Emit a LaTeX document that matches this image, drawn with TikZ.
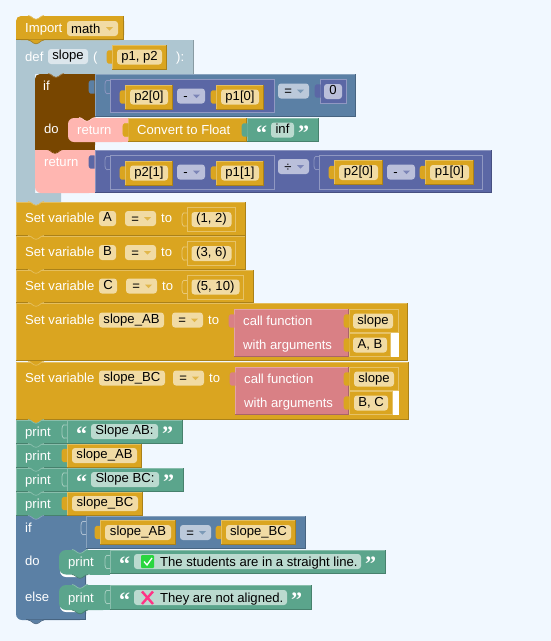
\documentclass[tikz,border=0pt]{standalone}
\usepackage{fontspec}
\setmainfont{Liberation Sans}
\newfontfamily\qfont{Liberation Serif}
\definecolor{bgc}{HTML}{F1F8FF}
\definecolor{gold}{HTML}{DAA520}
\definecolor{goldf}{HTML}{F1DBA4}
\definecolor{teal}{HTML}{5BA58C}
\definecolor{tealf}{HTML}{BBDACF}
\definecolor{blu}{HTML}{5B80A5}
\definecolor{bluf}{HTML}{BBC9DA}
\definecolor{pur}{HTML}{5B67A5}
\definecolor{purf}{HTML}{BABFDA}
\definecolor{defc}{HTML}{AEC6D1}
\definecolor{deff}{HTML}{DCE6EC}
\definecolor{brn}{HTML}{784600}
\definecolor{pnk}{HTML}{FFB6B1}
\definecolor{cal}{HTML}{D98085}
\newcounter{nn}
\tikzset{
  lbl/.style={anchor=base west,inner sep=0pt,font=\fontsize{13.1}{15}\selectfont},
  fldbox/.style={rounded corners=3pt,inner sep=0pt,text height=9.4pt,text depth=3pt,text=black,font=\fontsize{13.1}{15}\selectfont},
  quot/.style={anchor=base west,inner sep=0pt,text=white,font=\qfont\bfseries\fontsize{22}{22}\selectfont},
}
% label: [colour]{x}{baseline}{text}
\newcommand\tx[4][white]{\stepcounter{nn}\node[lbl,text=#1] (t\thenn) at (#2,#3) {#4};}
% block: x1 y1 x2 y2 colour
\newcommand\blk[5]{\fill[#5] (#1,#2) rectangle (#3,#4);
  \draw[#5!72!white,line width=.8pt] (#1+.4,#4) -- (#1+.4,#2+.4) -- (#3,#2+.4);
  \draw[#5!78!black,line width=.8pt] (#1,#4-.4) -- (#3-.4,#4-.4) -- (#3-.4,#2);}
% inset frame: x1 y1 x2 y2 colour
\newcommand\frm[5]{\fill[#5] (#1,#2) rectangle (#3,#4);
  \draw[#5!68!white,line width=.8pt] (#1+.4,#2+.4) rectangle (#3-.4,#4-.4);}
% field: x1 x2 yc text fill
\newcommand\fld[5]{\stepcounter{nn}\node[fldbox,fill=#5,minimum width={(#2)-(#1)},minimum height=15pt] (f\thenn) at ({((#1)+(#2))/2},#3) {#4};}
% dropdown: x1 x2 yc char fill arrow
\newcommand\dd[6]{\stepcounter{nn}\fill[#5,rounded corners=3pt] (#1,#3-7.5) rectangle (#2,#3+7.5);
  \node[lbl,text=black] (d\thenn) at (#1+4,#3+4.5) {#4};
  \fill[#6] (#2-12,#3-1.5) -- (#2-5,#3-1.5) -- (#2-8.5,#3+2) -- cycle;}
% tab left of x at yc
\newcommand\tabl[3]{\fill[#3] (#1+.5,#2-6.5) .. controls (#1-2,#2-7.5) and (#1-5.5,#2-7) .. (#1-5.5,#2-3) -- (#1-5.5,#2+3) .. controls (#1-5.5,#2+7) and (#1-2,#2+7.5) .. (#1+.5,#2+6.5) -- cycle;}
% empty slot, outline only
\newcommand\slot[3]{\draw[#3,line width=.8pt] (#1,#2-6.5) .. controls (#1-2,#2-7.5) and (#1-5,#2-7) .. (#1-5,#2-3) -- (#1-5,#2+3) .. controls (#1-5,#2+7) and (#1-2,#2+7.5) .. (#1,#2+6.5);}
% notch: centre x, y, colour of upper block, edge colour
\newcommand\notch[4]{\fill[#3] (#1-8,#2-.5) .. controls (#1-5,#2-.5) and (#1-3,#2+3.5) .. (#1,#2+3.5) .. controls (#1+3,#2+3.5) and (#1+5,#2-.5) .. (#1+8,#2-.5) -- cycle;
  \draw[#4,line width=.7pt] (#1-8,#2) .. controls (#1-5,#2) and (#1-3,#2+3.8) .. (#1,#2+3.8) .. controls (#1+3,#2+3.8) and (#1+5,#2) .. (#1+8,#2);}
% gold value block with field
\newcommand\gval[5]{\tabl{#1}{#3}{gold}\blk{#1}{#3-12.5}{#2}{#3+12.5}{gold}\fld{#1+5}{#2-5}{#3}{#4}{#5}}
% flat gold value block, inside a gold parent
\newcommand\gin[4]{\slot{#1}{#3}{gold!60!white}\frm{#1}{#3-12.5}{#2}{#3+12.5}{gold}\fld{#1+4.5}{#2-4.5}{#3}{#4}{goldf}}
% quote mark: x, row centre, glyph
\newcommand\qq[3]{\stepcounter{nn}\node[quot] (q\thenn) at (#1,#2+10) {#3};}
\begin{document}
\begin{tikzpicture}[x=1pt,y=-1pt]
\useasboundingbox (0,0) rectangle (551,641);
\fill[bgc] (0,0) rectangle (551,641);

% ===== def =====
\fill[defc] (16,40) -- (193,40) -- (193,74) -- (35,74) -- (35,193) -- (61,193) -- (61,202) -- (16,202) -- cycle;
\draw[defc!78!black,line width=.6pt] (193,40) -- (193,74);
\tx{25}{61.5}{def}
\fld{48}{88}{56.5}{slope}{deff}
\tx{93}{61.5}{(}
\gval{112}{167}{57}{p1, p2}{goldf}
\tx{176}{61.5}{):}

% ===== import =====
\fill[gold,rounded corners=5pt] (16,40) -- (16,16) -- (124,16) -- (124,40) -- cycle;
\fill[gold] (16,30) rectangle (124,40);
\fill[gold] (100,16) rectangle (124,40);
\draw[gold!78!black,line width=.8pt] (16,39.6) -- (123.6,39.6) -- (123.6,16);
\notch{36}{40}{gold}{gold!78!black}
\notch{36}{15.5}{bgc}{gold!72!white}
\tx{25}{32.5}{Import}
\dd{67}{118}{28.5}{math}{goldf}{gold!80!white}

% ===== inner if =====
\fill[brn,rounded corners=5pt] (35,150) -- (35,74) -- (95,74) -- (95,150) -- cycle;
\fill[brn] (35,140) rectangle (95,150);
\fill[brn] (80,74) rectangle (95,150);
\notch{56}{73.5}{defc}{brn!72!white}
\blk{95}{74}{356}{117}{blu}
\tabl{94}{87}{blu}
\tx{43}{90}{if}
\tx{44}{133}{do}
\frm{110}{79}{275}{113}{pur}
\slot{110}{87}{pur!70!white}
\gval{125}{173}{97}{p2[0]}{goldf}
\dd{177}{205}{96}{\,-}{purf}{pur!80!white}
\gval{216}{264}{97}{p1[0]}{goldf}
\dd{278}{309}{91}{\,=}{bluf}{blu!80!white}
\frm{320}{79}{347}{104}{pur}
\tabl{320}{91}{pur}
\fld{324}{342}{91.5}{0}{purf}

% return inside if
\fill[pnk,rounded corners=6pt] (128,142) -- (68,142) -- (68,118) -- (128,118) -- cycle;
\fill[pnk] (100,118) rectangle (128,142);
\notch{87}{117.5}{brn}{pnk!70!white}
\tx{77}{134.5}{return}
\blk{128}{118}{247}{142}{gold}
\slot{128}{130}{gold!65!white}
\tabl{128}{130}{gold}
\tx{137}{134.5}{Convert to Float}
\blk{247}{118}{319}{142}{teal}
\tabl{247}{130}{teal}
\qq{256}{130}{“}
\fld{271}{294}{130}{inf}{tealf}
\qq{298}{130}{”}

% return below if
\fill[pnk,rounded corners=6pt] (95,193) -- (35,193) -- (35,150) -- (95,150) -- cycle;
\fill[pnk] (35,150) rectangle (95,170);
\fill[pnk] (80,150) rectangle (95,193);
\notch{55}{149.5}{brn}{brn}
\blk{95}{150}{492}{193}{pur}
\tabl{94}{162}{pur}
\tx{44}{166}{return}
\frm{110}{155}{275}{190}{pur}
\slot{110}{163}{pur!70!white}
\gval{125}{173}{173}{p2[1]}{goldf}
\dd{177}{205}{172}{\,-}{purf}{pur!80!white}
\gval{216}{264}{173}{p1[1]}{goldf}
\dd{278}{309}{166.5}{\,÷}{purf}{pur!80!white}
\frm{319}{155}{483}{190}{pur}
\slot{319}{163}{pur!70!white}
\gval{334}{383}{172.5}{p2[0]}{goldf}
\dd{387}{415}{172}{\,-}{purf}{pur!80!white}
\gval{425}{474}{172.5}{p1[0]}{goldf}

% ===== set variable =====
\blk{16}{202}{246}{236}{gold}
\notch{36}{201.5}{defc}{gold!72!white}
\tx{25}{222}{Set variable}
\fld{99}{116}{218.5}{A}{goldf}
\dd{125}{156}{218.5}{\,=}{goldf}{gold!80!white}
\tx{161}{222}{to}
\gin{187}{236}{219.5}{(1, 2)}

\blk{16}{236}{246}{270}{gold}
\notch{36}{235.5}{gold}{gold!72!white}
\tx{25}{256}{Set variable}
\fld{99}{116}{252.5}{B}{goldf}
\dd{125}{156}{252.5}{\,=}{goldf}{gold!80!white}
\tx{161}{256}{to}
\gin{187}{236}{253.5}{(3, 6)}

\blk{16}{270}{254}{303}{gold}
\notch{36}{269.5}{gold}{gold!72!white}
\tx{25}{290}{Set variable}
\fld{99}{117}{286}{C}{goldf}
\dd{126}{157}{286}{\,=}{goldf}{gold!80!white}
\tx{162}{290}{to}
\gin{187}{244}{287}{(5, 10)}

\blk{16}{303}{408}{361}{gold}
\notch{36}{302.5}{gold}{gold!72!white}
\tx{25}{324}{Set variable}
\fld{99}{164}{320}{slope\_AB}{goldf}
\dd{172}{203}{320}{\,=}{goldf}{gold!80!white}
\tx{208}{324}{to}
\fill[white] (349,333) rectangle (399,357);
\blk{234}{309}{349}{357}{cal}
\tabl{234}{321}{cal}
\tx{243}{325}{call function}
\tx{243}{349}{with arguments}
\frm{349}{309}{399}{333}{gold}
\tabl{349}{321}{gold}
\fld{353}{393}{321}{slope}{goldf}
\frm{349}{333}{391}{357}{gold}
\tabl{349}{345}{gold}
\fld{353}{387}{345}{A, B}{goldf}

\blk{16}{362}{409}{420}{gold}
\notch{36}{361.5}{gold}{gold!72!white}
\tx{25}{382}{Set variable}
\fld{99}{165}{378}{slope\_BC}{goldf}
\dd{173}{204}{378}{\,=}{goldf}{gold!80!white}
\tx{209}{382}{to}
\fill[white] (349,391) rectangle (399,415);
\blk{235}{367}{349}{415}{cal}
\tabl{235}{379}{cal}
\tx{244}{383}{call function}
\tx{244}{407}{with arguments}
\frm{349}{367}{399}{391}{gold}
\tabl{349}{379}{gold}
\fld{354}{394}{379}{slope}{goldf}
\frm{349}{391}{393}{415}{gold}
\tabl{349}{403}{gold}
\fld{354}{388}{403}{B, C}{goldf}

% ===== print =====
\blk{16}{420}{68}{444}{teal}
\blk{67}{420}{183}{444}{teal}
\slot{67}{431.5}{teal!55!white}
\notch{36}{419.5}{gold}{teal!72!white}
\tx{25}{436}{print}
\qq{76}{431.5}{“}
\fld{91}{158}{431.5}{Slope AB:}{tealf}
\qq{162}{431.5}{”}

\blk{16}{444}{68}{468}{teal}
\notch{36}{443.5}{teal}{teal!72!white}
\tabl{67}{455.5}{gold}
\blk{67}{444}{142}{468}{gold}
\tx{25}{460}{print}
\fld{72}{137}{455.5}{slope\_AB}{goldf}

\blk{16}{468}{68}{492}{teal}
\blk{67}{468}{184}{492}{teal}
\slot{67}{479.5}{teal!55!white}
\notch{36}{467.5}{teal}{teal!72!white}
\tx{25}{484}{print}
\qq{76}{479.5}{“}
\fld{91}{159}{479.5}{Slope BC:}{tealf}
\qq{163}{479.5}{”}

\blk{16}{492}{68}{516}{teal}
\notch{36}{491.5}{teal}{teal!72!white}
\tabl{67}{503.5}{gold}
\blk{67}{492}{143}{516}{gold}
\tx{25}{508}{print}
\fld{72}{138}{503.5}{slope\_BC}{goldf}

% ===== final if =====
\fill[blu,rounded corners=6pt] (86,620) -- (16,620) -- (16,516) -- (86,516) -- cycle;
\fill[blu] (16,516) rectangle (30,560);
\fill[blu] (60,516) rectangle (86,620);
\draw[blu!78!black,line width=.8pt] (26,619.6) -- (85.6,619.6) -- (85.6,574);
\blk{86}{516}{306}{549}{blu}
\slot{86}{528}{blu!50!white}
\notch{36}{515.5}{teal}{blu!72!white}
\notch{36}{620}{blu}{blu!78!black}
\tx{25}{532}{if}
\tx{25}{565}{do}
\tx{25}{601}{else}
\gval{100}{176}{532.5}{slope\_AB}{goldf}
\dd{180}{211}{532.5}{\,=}{bluf}{blu!80!white}
\gval{221}{296}{532.5}{slope\_BC}{goldf}

% do print
\fill[white,rounded corners=6pt] (60,577) -- (60,560) -- (86,560) -- (86,577) -- cycle;
\fill[teal,rounded corners=7pt] (110,574.5) -- (59,574.5) -- (59,550) -- (110,550) -- cycle;
\fill[teal] (90,550) rectangle (110,574.5);
\notch{80}{549.5}{blu}{teal!72!white}
\notch{80}{574.5}{teal}{teal!78!black}
\tx{68}{566}{print}
\blk{110}{550}{386}{574}{teal}
\slot{110}{562}{teal!55!white}
\qq{119}{561.5}{“}
\fld{134}{361}{561.5}{}{tealf}
\fill[green!55!teal,rounded corners=1pt] (141,555) rectangle (154,568);
\draw[white,line width=1.3pt] (144,561.5) -- (147,565) -- (152,558);
\tx[black]{160}{566}{The students are in a straight line.}
\qq{365}{561.5}{”}

% else print
\fill[white,rounded corners=6pt] (60,612) -- (60,595) -- (86,595) -- (86,612) -- cycle;
\fill[teal,rounded corners=7pt] (110,610) -- (59,610) -- (59,585) -- (110,585) -- cycle;
\fill[teal] (90,585) rectangle (110,610);
\notch{80}{584.5}{blu}{teal!72!white}
\notch{80}{610}{teal}{teal!78!black}
\tx{68}{602}{print}
\blk{110}{585}{312}{610}{teal}
\slot{110}{597}{teal!55!white}
\qq{119}{597.5}{“}
\fld{134}{287}{597.5}{}{tealf}
\draw[red!60!magenta!80!white,line width=2.4pt] (142,591.5) -- (153,604);
\draw[red!60!magenta!80!white,line width=2.4pt] (153,591.5) -- (142,604);
\tx[black]{160}{602}{They are not aligned.}
\qq{291}{597.5}{”}
\end{tikzpicture}
\end{document}
